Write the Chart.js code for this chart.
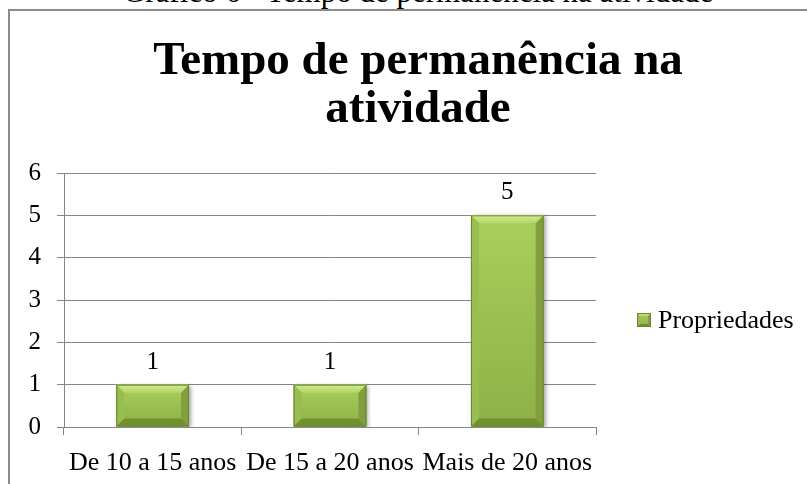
<!DOCTYPE html>
<html>
<head>
<meta charset="utf-8">
<script src="https://cdn.jsdelivr.net/npm/chart.js@4.4.1/dist/chart.umd.min.js"></script>
<style>
  html, body { margin: 0; padding: 0; background: #fff; overflow: hidden; width: 807px; height: 484px; }
  #caption { position: absolute; left: 0; top: -24px; width: 836px; text-align: center; white-space: nowrap;
             font: 31px "Liberation Serif", "Times New Roman", serif; line-height: 31px; color: #000; }
  #frame { position: absolute; left: 8px; top: 9px; width: 816px; height: 490px;
           border-left: 2px solid #8c8c8c; border-top: 2px solid #8c8c8c; }
</style>
</head>
<body>
<div id="caption">Gráfico 6 - Tempo de permanência na atividade</div>
<div id="frame"><canvas id="chart"></canvas></div>
<script>
const categories = ['De 10 a 15 anos', 'De 15 a 20 anos', 'Mais de 20 anos'];
const propriedades = [1, 1, 5];
const yTicks = [0, 1, 2, 3, 4, 5, 6];
const chartTitle = ['Tempo de permanência na', 'atividade'];
const seriesName = 'Propriedades';

const serif = '"Liberation Serif", "Times New Roman", serif';
const gridGray = '#868686';
Chart.defaults.font.family = serif;
Chart.defaults.color = '#000';

function facet(ctx, pts, fill) {
    ctx.beginPath();
    ctx.moveTo(pts[0][0], pts[0][1]);
    for (let i = 1; i < pts.length; i++) ctx.lineTo(pts[i][0], pts[i][1]);
    ctx.closePath();
    ctx.fillStyle = fill;
    ctx.fill();
}

// draws the office style bevel inside a rectangle
function bevelBox(ctx, l, t, r, b, d) {
    const face = ctx.createLinearGradient(0, t, 0, b);
    face.addColorStop(0, '#a9cf5c');
    face.addColorStop(1, '#8db147');
    facet(ctx, [[l, t], [r, t], [r, b], [l, b]], face);
    const top = ctx.createLinearGradient(0, t, 0, t + d);
    top.addColorStop(0, '#d2ec8c');
    top.addColorStop(1, '#b4d66a');
    facet(ctx, [[l, t], [r, t], [r - d, t + d], [l + d, t + d]], top);
    facet(ctx, [[l, t], [l + d, t + d], [l + d, b - d], [l, b]], '#98bd50');
    facet(ctx, [[r, t], [r, b], [r - d, b - d], [r - d, t + d]], '#819f3e');
    facet(ctx, [[l, b], [l + d, b - d], [r - d, b - d], [r, b]], '#71902f');
    ctx.strokeStyle = '#6a8733';
    ctx.lineWidth = 1;
    ctx.strokeRect(l + 0.5, t + 0.5, r - l - 1, b - t - 1);
}

// soft shadow under the bars
const barShadow = {
    id: 'barShadow',
    beforeDatasetsDraw(chart) {
        const ctx = chart.ctx;
        ctx.save();
        ctx.shadowColor = 'rgba(0,0,0,0.35)';
        ctx.shadowBlur = 4;
        ctx.shadowOffsetX = 2;
        ctx.shadowOffsetY = 1;
    },
    afterDatasetsDraw(chart) {
        chart.ctx.restore();
    }
};

const bevel = {
    id: 'bevel',
    afterDatasetsDraw(chart) {
        const ctx = chart.ctx;
        chart.getDatasetMeta(0).data.forEach(bar => {
            const {x, y, base, width} = bar.getProps(['x', 'y', 'base', 'width'], true);
            ctx.save();
            bevelBox(ctx, x - width / 2, y, x + width / 2, base, Math.min(8, (base - y) / 3));
            ctx.restore();
        });
    }
};

const barLabels = {
    id: 'barLabels',
    afterDatasetsDraw(chart) {
        const ctx = chart.ctx;
        const ds = chart.data.datasets[0];
        ctx.save();
        ctx.font = '25px ' + serif;
        ctx.fillStyle = '#000';
        ctx.textAlign = 'center';
        ctx.textBaseline = 'alphabetic';
        chart.getDatasetMeta(0).data.forEach((bar, i) => {
            ctx.fillText(String(ds.data[i]), bar.x, bar.y - 16);
        });
        ctx.restore();
    }
};

// legend to the right of the plot, in the space kept by the spacer axis
const sideLegend = {
    id: 'sideLegend',
    afterDraw(chart) {
        const ctx = chart.ctx;
        const area = chart.chartArea;
        const bx = area.right + 41;
        const by = area.top + 140;
        ctx.save();
        bevelBox(ctx, bx, by, bx + 14, by + 14, 3);
        ctx.font = '26px ' + serif;
        ctx.fillStyle = '#000';
        ctx.textAlign = 'left';
        ctx.textBaseline = 'alphabetic';
        ctx.fillText(chart.data.datasets[0].label, bx + 21, by + 15);
        ctx.restore();
    }
};

new Chart(document.getElementById('chart'), {
    type: 'bar',
    data: {
        labels: categories,
        datasets: [{
            label: seriesName,
            data: propriedades,
            backgroundColor: '#9bbf52',
            borderWidth: 0,
            categoryPercentage: 1,
            barPercentage: 0.41
        }]
    },
    options: {
        responsive: true,
        maintainAspectRatio: false,
        animation: false,
        layout: { padding: 0 },
        plugins: {
            title: {
                display: true,
                text: chartTitle,
                color: '#000',
                font: { family: serif, size: 47, weight: 'bold', lineHeight: 48 / 47 },
                padding: { top: 27, bottom: 39 }
            },
            legend: { display: false },
            tooltip: { enabled: false }
        },
        scales: {
            x: {
                grid: { offset: true, drawOnChartArea: false, drawTicks: true, tickLength: 8, color: gridGray },
                border: { display: true, color: gridGray },
                ticks: { font: { family: serif, size: 26 }, color: '#000', padding: 13, maxRotation: 0, autoSkip: false },
                afterFit(scale) { scale.height = 74; }
            },
            y: {
                min: 0,
                max: 6,
                afterBuildTicks(scale) { scale.ticks = yTicks.map(v => ({ value: v })); },
                grid: { color: gridGray, tickLength: 7 },
                border: { display: true, color: gridGray },
                ticks: { font: { family: serif, size: 25 }, color: '#000', padding: 16 },
                afterFit(scale) { scale.width = 54; }
            },
            spacer: {
                type: 'linear',
                position: 'right',
                display: true,
                grid: { display: false },
                border: { display: false },
                ticks: { display: false },
                afterFit(scale) { scale.width = 230; }
            }
        }
    },
    plugins: [barShadow, bevel, barLabels, sideLegend]
});
</script>
</body>
</html>
